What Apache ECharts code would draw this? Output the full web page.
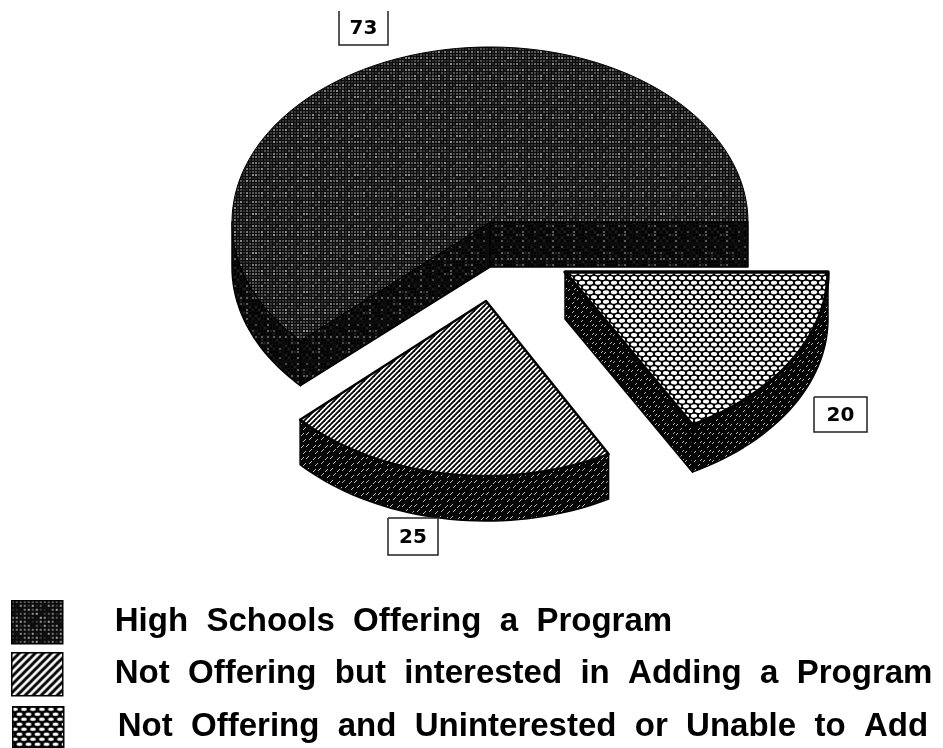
<!DOCTYPE html>
<html>
<head>
<meta charset="utf-8">
<title>High school programs</title>
<script src="https://cdn.jsdelivr.net/npm/echarts@6/dist/echarts.min.js"></script>
<style>
  html, body { margin: 0; padding: 0; background: #fff; }
  #main { width: 943px; height: 748px; }
</style>
</head>
<body>
<div id="main"></div>
<script>
// data
const names = [
  'High Schools Offering a Program',
  'Not Offering but interested in Adding a Program',
  'Not Offering and Uninterested or Unable to Add'
];
const values = [73, 25, 20];

// layout of the tilted pie, in pixels
const sliceLayout = [
  { cx: 490, cy: 222, rx: 258, ry: 175, depth: 45, edge: 1 },
  { cx: 486, cy: 301, rx: 253, ry: 175, depth: 45, edge: 2.5 },
  { cx: 565, cy: 272, rx: 263, ry: 175, depth: 47, edge: 3.5 }
];
const labelBoxes = [
  { x: 339, y: 11, w: 49, h: 34, open: true },
  { x: 388, y: 518, w: 50, h: 37, open: false },
  { x: 814, y: 397, w: 53, h: 35, open: false }
];
const legendRows = [
  { left: 11, top: 600, h: 43, pad: 47 },
  { left: 11, top: 652, h: 43, pad: 47 },
  { left: 12, top: 706, h: 41, pad: 49 }
];

function tile(w, h, draw) {
  const c = document.createElement('canvas');
  c.width = w;
  c.height = h;
  draw(c.getContext('2d'), w, h);
  return { image: c, repeat: 'repeat' };
}

// dark screen: grey dots on a grid, levels vary a bit so it looks mottled
function dotTile(step, levels) {
  return tile(step * 17, step * 13, function (g, w, h) {
    g.fillStyle = '#0c0c0c';
    g.fillRect(0, 0, w, h);
    for (let i = 0; i < 17; i++) {
      for (let j = 0; j < 13; j++) {
        const v = levels[(i * 7 + j * 11 + i * j) % levels.length];
        g.fillStyle = 'rgb(' + v + ',' + v + ',' + v + ')';
        g.fillRect(i * step, j * step, 2, 2);
      }
    }
  });
}

function hatchTile(size, width) {
  return tile(size, size, function (g, w, h) {
    g.fillStyle = '#fff';
    g.fillRect(0, 0, w, h);
    g.strokeStyle = '#000';
    g.lineWidth = width;
    [[-w, h, w, -h], [0, h, w, 0], [0, 2 * h, 2 * w, 0]].forEach(function (l) {
      g.beginPath();
      g.moveTo(l[0], l[1]);
      g.lineTo(l[2], l[3]);
      g.stroke();
    });
  });
}

// white cells in offset rows, black walls between them
function hexTile(colStep, rowStep, rows, cellW, cellH) {
  const h = Math.round(rows * rowStep);
  return tile(colStep, h, function (g) {
    g.fillStyle = '#000';
    g.fillRect(0, 0, colStep, h);
    g.fillStyle = '#fff';
    for (let r = 0; r < rows; r++) {
      const y = (r + 0.5) * rowStep;
      const x = r % 2 ? colStep * 0.75 : colStep * 0.25;
      [x - colStep, x, x + colStep].forEach(function (px) {
        g.beginPath();
        g.ellipse(px, y, cellW, cellH, 0, 0, Math.PI * 2);
        g.fill();
      });
    }
  });
}

// side walls: nearly black with sparse flecks
function fleckTile(size, flecks, slant) {
  return tile(size, size, function (g) {
    g.fillStyle = '#050505';
    g.fillRect(0, 0, size, size);
    g.strokeStyle = 'rgba(215,215,215,0.85)';
    g.lineWidth = 1;
    flecks.forEach(function (p) {
      g.beginPath();
      g.moveTo(p[0], p[1]);
      g.lineTo(p[0] + slant, p[1] - Math.abs(slant));
      g.stroke();
    });
  });
}

const topFill = [dotTile(3, [110, 70, 140, 50, 90, 40, 120, 80]), hatchTile(5, 1.8), hexTile(8, 4.75, 4, 3.1, 2)];
const sideFill = [
  dotTile(3, [0, 30, 0, 10, 70, 0, 20, 0, 90, 0]),
  fleckTile(12, [[1, 4], [6, 3], [9, 8], [3, 10]], 3),
  fleckTile(9, [[1, 3], [5, 7], [7, 2]], 2)
];
const legendFill = [dotTile(4, [120, 60, 160, 40, 90, 20, 140]), hatchTile(8, 3), hexTile(9, 5, 2, 2.9, 1.7)];

const total = values.reduce(function (a, b) { return a + b; }, 0);

// slices run anticlockwise from 3 o'clock; returns screen angles in degrees (y down)
function sliceAngles(idx, value) {
  let before = 0;
  for (let i = 0; i < idx; i++) before += values[i];
  return { from: 360 - (before + value) / total * 360, to: 360 - before / total * 360 };
}

function point(s, deg, dy) {
  const a = deg * Math.PI / 180;
  return [s.cx + s.rx * Math.cos(a), s.cy + s.ry * Math.sin(a) + (dy || 0)];
}

function arcPoints(s, from, to, dy) {
  const pts = [];
  const n = Math.ceil(Math.abs(to - from) / 2);
  for (let i = 0; i <= n; i++) pts.push(point(s, from + (to - from) * i / n, dy));
  return pts;
}

function wall(points, idx) {
  return {
    type: 'polygon',
    shape: { points: points },
    style: { fill: sideFill[idx], stroke: '#000', lineWidth: 1.5, lineJoin: 'round' }
  };
}

function facesViewer(normalDeg) {
  return Math.sin(normalDeg * Math.PI / 180) > 0;
}

function renderSlice(idx) {
  return function (params, api) {
    const s = sliceLayout[idx];
    const value = api.value(0);
    const ang = sliceAngles(idx, value);
    const apex = [s.cx, s.cy];
    const apexLow = [s.cx, s.cy + s.depth];
    const children = [];

    // cut faces that turn towards the viewer
    [[ang.from, ang.from - 90], [ang.to, ang.to + 90]].forEach(function (cut) {
      if (facesViewer(cut[1])) {
        children.push(wall([apex, point(s, cut[0]), point(s, cut[0], s.depth), apexLow], idx));
      }
    });

    // outer wall, only the part of the rim on the near side
    const lo = Math.max(ang.from, 0);
    const hi = Math.min(ang.to, 180);
    children.push(wall(arcPoints(s, lo, hi, 0).concat(arcPoints(s, hi, lo, s.depth)), idx));

    // top face
    children.push({
      type: 'polygon',
      shape: { points: [apex].concat(arcPoints(s, ang.from, ang.to, 0)) },
      style: { fill: topFill[idx], stroke: '#000', lineWidth: s.edge, lineJoin: 'round' }
    });

    // value box
    const b = labelBoxes[idx];
    const frame = [[b.x, b.y], [b.x, b.y + b.h], [b.x + b.w, b.y + b.h], [b.x + b.w, b.y]];
    if (!b.open) frame.push([b.x, b.y]);
    children.push({
      type: 'polyline',
      shape: { points: frame },
      style: { fill: '#fff', stroke: '#222', lineWidth: 1.5 }
    });
    children.push({
      type: 'text',
      style: {
        x: b.x + b.w / 2,
        y: b.y + b.h / 2 + 1,
        text: String(value),
        fill: '#000',
        font: 'bold 20px "DejaVu Sans"',
        textAlign: 'center',
        textVerticalAlign: 'middle'
      }
    });

    return { type: 'group', children: children };
  };
}

const myChart = echarts.init(document.getElementById('main'));
const option = {
  backgroundColor: '#fff',
  animation: false,
  legend: names.map(function (name, i) {
    const row = legendRows[i];
    return {
      data: [{
        name: name,
        icon: 'rect',
        itemStyle: { color: legendFill[i], borderColor: '#000', borderWidth: 1.5 }
      }],
      left: row.left,
      top: row.top,
      padding: 0,
      itemWidth: 51,
      itemHeight: row.h,
      selectedMode: false,
      formatter: function (n) { return n.replace(/ /g, '\u00a0\u00a0'); },
      textStyle: {
        color: '#000',
        fontFamily: '"Liberation Sans"',
        fontWeight: 'bold',
        fontSize: 33,
        padding: [0, 0, 0, row.pad]
      }
    };
  }),
  series: names.map(function (name, i) {
    return {
      name: name,
      type: 'custom',
      coordinateSystem: 'none',
      silent: true,
      z: 3 - i,
      renderItem: renderSlice(i),
      data: [[values[i]]]
    };
  })
};
myChart.setOption(option);
</script>
</body>
</html>
